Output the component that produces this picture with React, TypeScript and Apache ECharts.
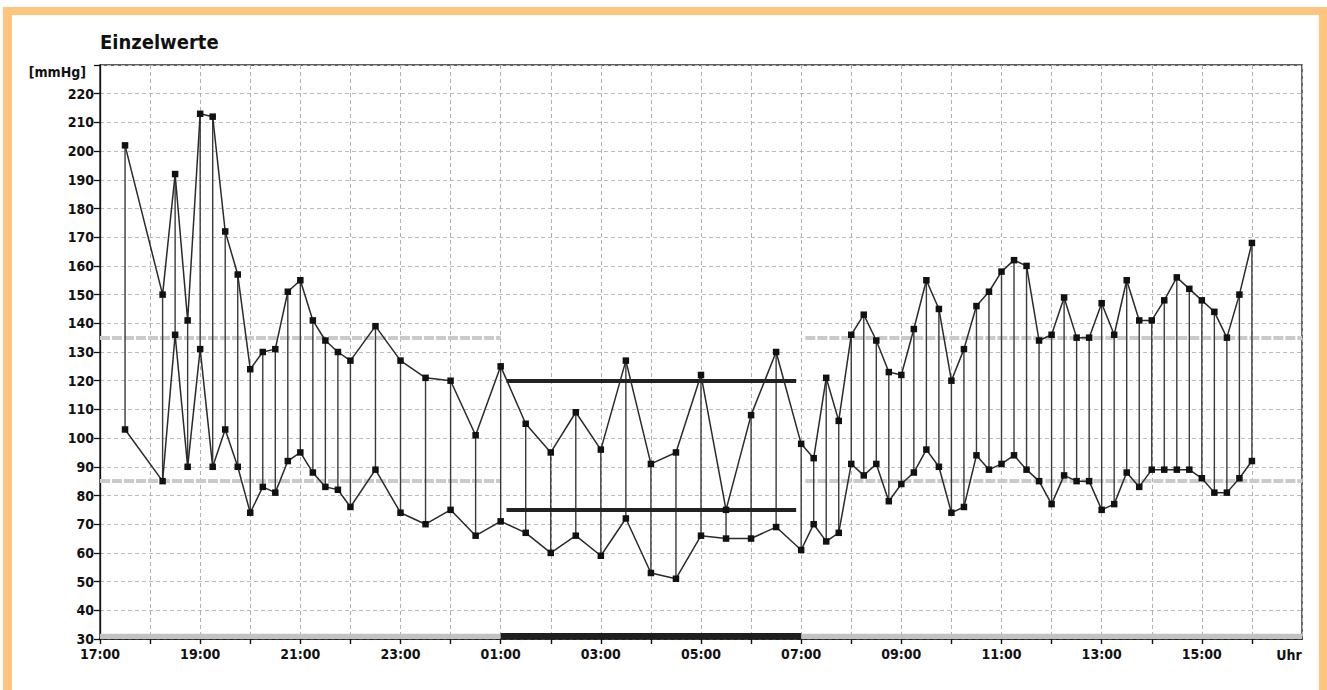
import React, { useEffect, useRef } from "react";
import * as echarts from "echarts";

// ---- data ----
const chartTitle = "Einzelwerte";
const yUnit = "[mmHg]";
const xUnit = "Uhr";
const startHour = 17;
const xTickLabels = ["17:00", "19:00", "21:00", "23:00", "01:00", "03:00", "05:00", "07:00", "09:00", "11:00", "13:00", "15:00"];
const yMin = 30;
const yMax = 230;
const yLabelMax = 220;

const times = [
  "17:30", "18:15", "18:30", "18:45", "19:00", "19:15", "19:30", "19:45", "20:00", "20:15",
  "20:30", "20:45", "21:00", "21:15", "21:30", "21:45", "22:00", "22:30", "23:00", "23:30",
  "00:00", "00:30", "01:00", "01:30", "02:00", "02:30", "03:00", "03:30", "04:00", "04:30",
  "05:00", "05:30", "06:00", "06:30", "07:00", "07:15", "07:30", "07:45", "08:00", "08:15",
  "08:30", "08:45", "09:00", "09:15", "09:30", "09:45", "10:00", "10:15", "10:30", "10:45",
  "11:00", "11:15", "11:30", "11:45", "12:00", "12:15", "12:30", "12:45", "13:00", "13:15",
  "13:30", "13:45", "14:00", "14:15", "14:30", "14:45", "15:00", "15:15", "15:30", "15:45",
  "16:00",
];
const systolic = [
  202, 150, 192, 141, 213, 212, 172, 157, 124, 130,
  131, 151, 155, 141, 134, 130, 127, 139, 127, 121,
  120, 101, 125, 105, 95, 109, 96, 127, 91, 95,
  122, 75, 108, 130, 98, 93, 121, 106, 136, 143,
  134, 123, 122, 138, 155, 145, 120, 131, 146, 151,
  158, 162, 160, 134, 136, 149, 135, 135, 147, 136,
  155, 141, 141, 148, 156, 152, 148, 144, 135, 150,
  168,
];
const diastolic = [
  103, 85, 136, 90, 131, 90, 103, 90, 74, 83,
  81, 92, 95, 88, 83, 82, 76, 89, 74, 70,
  75, 66, 71, 67, 60, 66, 59, 72, 53, 51,
  66, 65, 65, 69, 61, 70, 64, 67, 91, 87,
  91, 78, 84, 88, 96, 90, 74, 76, 94, 89,
  91, 94, 89, 85, 77, 87, 85, 85, 75, 77,
  88, 83, 89, 89, 89, 89, 86, 81, 81, 86,
  92,
];

const dayLimits = [135, 85];
const nightLimits = [120, 75];
const dayPeriods = [["17:00", "01:00"], ["07:05", "17:00"]];
const nightLinePeriod = ["01:07", "06:54"];
const nightBand = ["01:00", "07:00"];
const dayBands = [["17:00", "01:00"], ["07:00", "17:00"]];

function toHours(t: string, isEnd = false): number {
  const [h, m] = t.split(":").map(Number);
  let v = ((h - startHour + 24) % 24) + m / 60;
  if (isEnd && v === 0) v = 24;
  return v;
}

const FONT = '"DejaVu Sans Condensed", "DejaVu Sans", sans-serif';
const ORANGE = "#FFC47E";

export default function App() {
  const ref = useRef<HTMLDivElement>(null);

  useEffect(() => {
    if (!ref.current) return;
    const chart = echarts.init(ref.current, null, { renderer: "svg" });
    const xs = times.map((t) => toHours(t));

    const grayLine = { color: "#cacaca", width: 4, type: [10, 2] as any };
    const blackLine = { color: "#222", width: 4, type: "solid" as any };

    const grayRefLines: any[] = [];
    dayPeriods.forEach(([a, b]) => {
      dayLimits.forEach((v) => {
        grayRefLines.push([
          { coord: [toHours(a), v], lineStyle: grayLine },
          { coord: [toHours(b, true), v] },
        ]);
      });
    });
    const nightRefLines: any[] = nightLimits.map((v) => [
      { coord: [toHours(nightLinePeriod[0]), v], lineStyle: blackLine },
      { coord: [toHours(nightLinePeriod[1], true), v] },
    ]);

    const bands: any[] = [];
    dayBands.forEach(([a, b]) => {
      bands.push([
        { xAxis: toHours(a), yAxis: yMin, itemStyle: { color: "#c2c2c2" } },
        { xAxis: toHours(b, true), yAxis: yMin + 1.8 },
      ]);
    });
    bands.push([
      { xAxis: toHours(nightBand[0]), yAxis: yMin, itemStyle: { color: "#1e1e1e" } },
      { xAxis: toHours(nightBand[1], true), yAxis: yMin + 2.1 },
    ]);

    const option: any = {
      animation: false,
      backgroundColor: "#ffffff",
      grid: {
        left: 100,
        right: 25,
        top: 65,
        bottom: 51,
        show: true,
        borderColor: "#2a2a2a",
        borderWidth: 1.4,
        backgroundColor: "transparent",
      },
      xAxis: {
        type: "value",
        min: 0,
        max: 24,
        interval: 1,
        axisLine: { show: true, onZero: false, lineStyle: { color: "#111", width: 1.6 } },
        axisTick: { show: true, length: 5, lineStyle: { color: "#111", width: 1.4 } },
        axisLabel: {
          formatter: (v: number) => (v % 2 === 0 && v < 24 ? xTickLabels[v / 2] : ""),
          color: "#111",
          fontSize: 14,
          fontWeight: "bold",
          fontFamily: FONT,
          margin: 8,
          showMaxLabel: false,
        },
        splitLine: { show: true, lineStyle: { color: "#b0b0b0", type: [4, 3], width: 1 } },
      },
      yAxis: {
        type: "value",
        min: yMin,
        max: yMax,
        interval: 10,
        axisLine: { show: true, lineStyle: { color: "#111", width: 1.3 } },
        axisTick: { show: true, length: 6, lineStyle: { color: "#111", width: 1.3 } },
        axisLabel: {
          formatter: (v: number) => (v <= yLabelMax ? String(v) : ""),
          color: "#111",
          fontSize: 14,
          fontWeight: "bold",
          fontFamily: FONT,
          margin: 6,
        },
        splitLine: { show: true, lineStyle: { color: "#bcbcbc", type: [4, 3], width: 1 } },
      },
      graphic: [
        { type: "rect", shape: { x: 3, y: 7, width: 1324, height: 8 }, style: { fill: ORANGE }, silent: true },
        { type: "rect", shape: { x: 3, y: 7, width: 9, height: 683 }, style: { fill: ORANGE }, silent: true },
        { type: "rect", shape: { x: 1319, y: 7, width: 8, height: 683 }, style: { fill: ORANGE }, silent: true },
        {
          type: "text",
          left: 100,
          top: 32,
          style: { text: chartTitle, font: `bold 20px ${FONT}`, fill: "#111" },
        },
        {
          type: "text",
          x: 86,
          y: 72,
          style: { text: yUnit, font: `bold 14px ${FONT}`, fill: "#111", textAlign: "right", textVerticalAlign: "middle" },
        },
        {
          type: "text",
          x: 1289,
          y: 655,
          style: { text: xUnit, font: `bold 14px ${FONT}`, fill: "#111", textAlign: "center", textVerticalAlign: "middle" },
        },
      ],
      series: [
        {
          type: "line",
          name: "refs",
          data: [],
          silent: true,
          z: 1,
          markLine: { silent: true, z: 1, symbol: ["none", "none"], label: { show: false }, data: grayRefLines },
          markArea: { silent: true, z: 1, data: bands },
        },
        {
          type: "custom",
          name: "pairs",
          silent: true,
          z: 2,
          encode: { x: 0, y: [1, 2] },
          data: xs.map((x, i) => [x, systolic[i], diastolic[i]]),
          renderItem: (params: any, api: any) => {
            const p1 = api.coord([api.value(0), api.value(1)]);
            const p2 = api.coord([api.value(0), api.value(2)]);
            return {
              type: "line",
              shape: { x1: p1[0], y1: p1[1], x2: p2[0], y2: p2[1] },
              style: { stroke: "#3a3a3a", lineWidth: 1.4 },
            };
          },
        },
        {
          type: "line",
          name: "Systole",
          z: 4,
          data: xs.map((x, i) => [x, systolic[i]]),
          symbol: "rect",
          symbolSize: 6.5,
          lineStyle: { color: "#2a2a2a", width: 1.5 },
          itemStyle: { color: "#111" },
          markLine: { silent: true, z: 3, symbol: ["none", "none"], label: { show: false }, data: nightRefLines },
        },
        {
          type: "line",
          name: "Diastole",
          z: 4,
          data: xs.map((x, i) => [x, diastolic[i]]),
          symbol: "rect",
          symbolSize: 6.5,
          lineStyle: { color: "#2a2a2a", width: 1.5 },
          itemStyle: { color: "#111" },
        },
      ],
    };

    chart.setOption(option);
    return () => chart.dispose();
  }, []);

  return (
    <div
      ref={ref}
      style={{ position: "fixed", left: 0, top: 0, width: 1327, height: 690, background: "#fff" }}
    />
  );
}
